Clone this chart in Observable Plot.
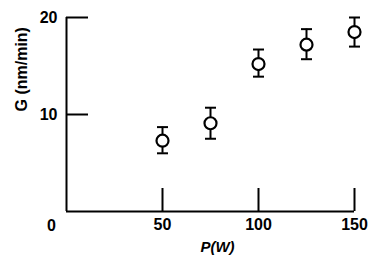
<!DOCTYPE html>
<html>
<head>
<meta charset="utf-8">
<script src="https://cdn.jsdelivr.net/npm/d3@7"></script>
<script src="https://cdn.jsdelivr.net/npm/@observablehq/plot@0.6"></script>
<style>
  html, body { margin: 0; padding: 0; background: #fff; }
</style>
</head>
<body>
<div id="chart"></div>
<script>
const power = [50, 75, 100, 125, 150];
const rate = [7.3, 9.1, 15.2, 17.2, 18.5];
const rateLow = [6.0, 7.5, 13.9, 15.7, 17.0];
const rateHigh = [8.7, 10.7, 16.7, 18.8, 20.0];
const xTicks = [50, 100, 150];
const yTicks = [10, 20];
const originLabel = [0];
const xLabel = "P(W)";
const yLabel = "G (nm/min)";

const data = power.map((p, i) => ({p, g: rate[i], lo: rateLow[i], hi: rateHigh[i]}));

const cap = {
  draw(context, size) {
    const w = Math.sqrt(size / Math.PI);
    context.moveTo(-w, 0);
    context.lineTo(w, 0);
  }
};

const font = "'Liberation Sans', Arial, sans-serif";

const chart = Plot.plot({
  width: 368,
  height: 265,
  marginLeft: 66,
  marginRight: 14,
  marginTop: 17,
  marginBottom: 54,
  style: {fontFamily: font, background: "#fff", color: "#000"},
  x: {domain: [0, 150]},
  y: {domain: [0, 20]},
  marks: [
    Plot.ruleX([0], {stroke: "#000", strokeWidth: 2}),
    Plot.ruleY([0], {stroke: "#000", strokeWidth: 2}),
    Plot.axisY(yTicks, {tickSize: -22, tickPadding: 31, strokeWidth: 2, fontSize: 16, fontWeight: "bold", label: null}),
    Plot.axisX(xTicks, {tickSize: -23, tickPadding: 30, strokeWidth: 2, fontSize: 16, fontWeight: "bold", label: null}),
    Plot.text(originLabel, {x: d => d, y: d => d, text: d => String(d), dx: -15, dy: 8, lineAnchor: "top", fontSize: 16, fontWeight: "bold"}),
    Plot.text([yLabel], {frameAnchor: "left", text: d => d, rotate: -90, dx: -45, dy: -3, fontSize: 16, fontWeight: "bold"}),
    Plot.text([xLabel], {frameAnchor: "bottom", text: d => d, dx: 7, dy: 40, fontSize: 15, fontWeight: "bold", fontStyle: "italic"}),
    Plot.ruleX(data, {x: "p", y1: "lo", y2: "hi", stroke: "#000", strokeWidth: 2}),
    Plot.dot(data, {x: "p", y: "lo", symbol: cap, r: 5.5, stroke: "#000", strokeWidth: 2}),
    Plot.dot(data, {x: "p", y: "hi", symbol: cap, r: 5.5, stroke: "#000", strokeWidth: 2}),
    Plot.dot(data, {x: "p", y: "g", r: 6, fill: "#fff", stroke: "#000", strokeWidth: 2.2})
  ]
});
document.getElementById("chart").appendChild(chart);
</script>
</body>
</html>
